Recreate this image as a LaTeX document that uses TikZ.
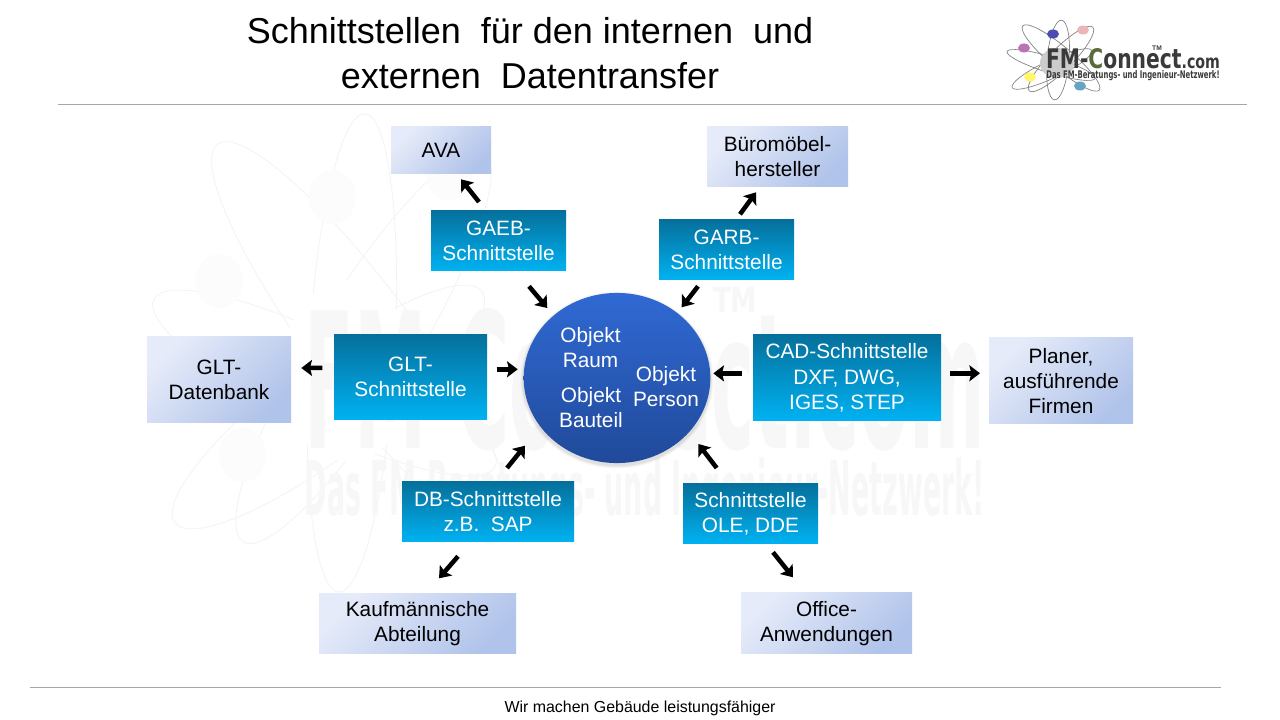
\documentclass[tikz,border=0pt]{standalone}
\usepackage{fontspec}
\setmainfont{Liberation Sans}
\newfontfamily\logofont{DejaVu Sans}
\usetikzlibrary{arrows.meta,shapes.geometric}
\definecolor{tealtop}{HTML}{05709C}
\definecolor{tealbot}{HTML}{00B2F2}
\definecolor{palelight}{HTML}{E6EBF9}
\definecolor{paledark}{HTML}{B0C3EA}
\definecolor{circtop}{HTML}{3069D4}
\definecolor{circbot}{HTML}{204A9A}
\definecolor{rulegrey}{HTML}{A6A6A6}
\definecolor{wmark}{HTML}{F7F7F7}
\definecolor{wline}{HTML}{F3F3F3}
\definecolor{logotext}{HTML}{3A3A3A}
\definecolor{logoc}{HTML}{5A6B3A}
\tikzset{
  x=0.75pt,y=-0.75pt,
  basebox/.style={rectangle,inner sep=0pt,align=center,font=\fontsize{15.6}{18.9}\selectfont},
  ifacebox/.style={basebox,text=white,top color=tealtop,bottom color=tealbot},
  partnerbox/.style={basebox,text=black,top color=palelight,bottom color=paledark,shading angle=45},
  hubtext/.style={inner sep=0pt,align=center,text=white,font=\fontsize{15.6}{18.9}\selectfont},
  flow/.style={line width=3.4pt,-{Stealth[length=8pt,width=12pt,inset=1.5pt]}},
  rulerline/.style={draw=rulegrey,line width=0.7pt},
}
% orbits of the logo, relative to the left top of its lettering
\newcommand{\logoorbits}[1]{%
  \draw[#1] (12,10) circle[x radius=40,y radius=11,rotate=85];
  \draw[#1] (15,9) circle[x radius=45,y radius=11,rotate=45];
  \draw[#1] (15,8) circle[x radius=50,y radius=11,rotate=-40];
  \draw[#1] (6,19) circle[x radius=44,y radius=9,rotate=25];
  \draw[#1] (5,15) circle[x radius=46,y radius=8,rotate=-17];
}
\newcommand{\logoballs}[6]{%
  \fill[#1] (11,13) circle[x radius=17,y radius=15];
  \fill[#2] (-22,-2) circle[x radius=6,y radius=4.5];
  \fill[#3] (7,-16) circle[x radius=6,y radius=4.5];
  \fill[#4] (37,-20) circle[x radius=6,y radius=4.5];
  \fill[#5] (-16,27) circle[x radius=6,y radius=4.5];
  \fill[#6] (34,36) circle[x radius=6,y radius=4.5];
}
\begin{document}
\begin{tikzpicture}
\useasboundingbox (0,0) rectangle (1280,720);
\fill[white] (0,0) rectangle (1280,720);

% watermark
\begin{scope}[shift={(305,293)},xscale=3.9,yscale=6]
  \logoorbits{draw=wline,line width=0.6pt}
  \logoballs{white}{wmark!40}{wmark!40}{wmark!40}{wmark!40}{wmark!40}
\end{scope}
\node[inner sep=0pt,text=wmark] (wmname) at (645,380) {\resizebox{510pt}{105pt}{\logofont\bfseries FM-Connect.com}};
\node[inner sep=0pt,text=wmark] (wmtag) at (645,495) {\resizebox{510pt}{43pt}{\logofont\bfseries Das FM-Beratungs- und Ingenieur-Netzwerk!}};
\node[inner sep=0pt,text=wmark] (wmtm) at (735,300) {\resizebox{33pt}{19pt}{\logofont\bfseries TM}};

% title
\node[inner sep=0pt,align=center,text=black,font=\fontsize{27}{34}\selectfont] (title) at (530,53) {Schnittstellen\ \ für den internen\ \ und\\externen\ \ Datentransfer};

% logo
\begin{scope}[shift={(1046,50)}]
  \logoorbits{draw=gray,line width=0.5pt}
  \logoballs{gray!40}{violet!55!white}{blue!40!gray}{pink!85!gray}{yellow!60}{cyan!50!gray}
\end{scope}
\node[inner sep=0pt,text=logotext] (logoname) at (1133,59) {\resizebox{130.5pt}{15pt}{\logofont\bfseries FM-{\color{logoc}C}onnect{\fontsize{7}{8}\selectfont .com}}};
\node[inner sep=0pt,text=logotext] (logotag) at (1133,76) {\resizebox{130pt}{6pt}{\logofont\bfseries Das FM-Beratungs- und Ingenieur-Netzwerk!}};
\node[inner sep=0pt,text=logotext,font=\fontsize{5}{6}\selectfont\bfseries] (logotm) at (1157,48) {TM};

% rules
\draw[rulerline] (58,104) -- (1247,104);
\draw[rulerline] (30,687) -- (1221,687);

% hub
\foreach \g/\o in {5/0.03,3/0.04,1.5/0.05}{
  \fill[black,opacity=\o] (617,380) circle[x radius=93.7+\g*0.6,y radius=85.5+\g*0.6];
}
\node[ellipse,inner sep=0pt,minimum width=140pt,minimum height=127.6pt,top color=circtop,bottom color=circbot] (hub) at (617,378) {};
\node[hubtext] (raum) at (590.5,347.5) {Objekt\\Raum};
\node[hubtext] (bauteil) at (591,407.5) {Objekt\\Bauteil};
\node[hubtext] (person) at (666,386.5) {Objekt\\Person};

% interfaces
\node[ifacebox,minimum width=101.25pt,minimum height=45pt] (gaeb) at (498.5,240.8) {GAEB-\\Schnittstelle};
\node[ifacebox,minimum width=101.25pt,minimum height=45pt] (garb) at (726.5,249.8) {GARB-\\Schnittstelle};
\node[ifacebox,minimum width=114.75pt,minimum height=63.8pt] (glts) at (410.5,377.2) {GLT-\\Schnittstelle};
\node[ifacebox,minimum width=141pt,minimum height=64.5pt] (cad) at (847,377.8) {CAD-Schnittstelle\\DXF, DWG,\\IGES, STEP};
\node[ifacebox,minimum width=129pt,minimum height=45pt] (dbs) at (488,511.8) {DB-Schnittstelle\\z.B.\ \ SAP};
\node[ifacebox,minimum width=101.25pt,minimum height=45pt] (ole) at (750.5,513.8) {Schnittstelle\\OLE, DDE};

% partners
\node[partnerbox,minimum width=75pt,minimum height=35.2pt] (ava) at (441,150.3) {AVA};
\node[partnerbox,minimum width=105.75pt,minimum height=45pt] (buero) at (777.5,156.8) {Büromöbel-\\hersteller};
\node[partnerbox,minimum width=108pt,minimum height=64.5pt] (gltdb) at (219,379.8) {GLT-\\Datenbank};
\node[partnerbox,minimum width=108pt,minimum height=64.5pt] (planer) at (1061,380.8) {Planer,\\ausführende\\Firmen};
\node[partnerbox,minimum width=147.75pt,minimum height=45pt] (kauf) at (417.5,623.8) {Kaufmännische\\Abteilung};
\node[partnerbox,minimum width=128.25pt,minimum height=45.8pt] (office) at (826.5,623.3) {Office-\\Anwendungen};

% flows into the hub
\draw[flow] ([shift={(30.5,45.5)}]gaeb.center) -- ([shift={(-69.7,-70)}]hub.center);
\draw[flow] ([shift={(-28.5,36.5)}]garb.center) -- ([shift={(64.7,-70.7)}]hub.center);
\draw[flow] ([shift={(86.2,-7.9)}]glts.center) -- ([shift={(-99.3,-8.7)}]hub.center);
\draw[flow] ([shift={(-105.3,-4.4)}]cad.center) -- ([shift={(96.3,-4.6)}]hub.center);
\draw[flow] ([shift={(19,-43.8)}]dbs.center) -- ([shift={(-92,67.7)}]hub.center);
\draw[flow] ([shift={(-33.8,-45.8)}]ole.center) -- ([shift={(81.3,66)}]hub.center);

% flows out to the partners
\draw[flow] ([shift={(-19.5,-38.8)}]gaeb.center) -- ([shift={(20,29)}]ava.center);
\draw[flow] ([shift={(13.5,-35.5)}]garb.center) -- ([shift={(-21.5,35.5)}]buero.center);
\draw[flow] ([shift={(-88.2,-9.3)}]glts.center) -- ([shift={(82.3,-11.8)}]gltdb.center);
\draw[flow] ([shift={(103,-4.5)}]cad.center) -- ([shift={(-81,-7.5)}]planer.center);
\draw[flow] ([shift={(-30,44.5)}]dbs.center) -- ([shift={(21.5,-45.5)}]kauf.center);
\draw[flow] ([shift={(22.5,38.5)}]ole.center) -- ([shift={(-33.5,-46)}]office.center);

% footer
\node[inner sep=0pt,text=black,font=\fontsize{11.95}{14}\selectfont] (footer) at (640,708.5) {Wir machen Gebäude leistungsfähiger};
\end{tikzpicture}
\end{document}
